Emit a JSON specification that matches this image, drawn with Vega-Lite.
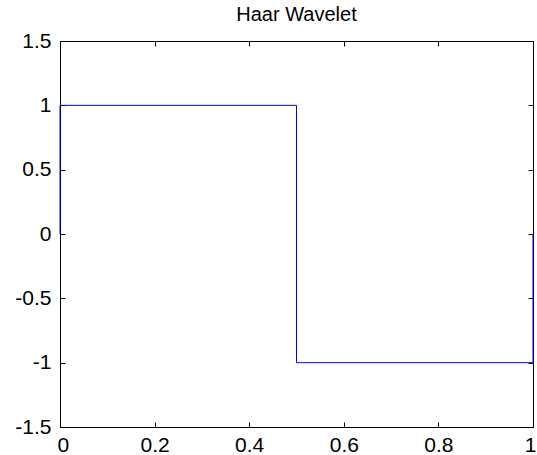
{
  "$schema": "https://vega.github.io/schema/vega-lite/v6.json",
  "width": 473,
  "height": 386,
  "autosize": {"type": "none"},
  "padding": {"left": 60, "top": 41, "right": 4, "bottom": 28},
  "background": "white",
  "title": {"text": "Haar Wavelet", "fontSize": 20, "font": "Liberation Sans", "fontWeight": "normal", "color": "black", "offset": 5},
  "data": {"values": [
    {"x": 0, "y": 0},
    {"x": 0, "y": 1},
    {"x": 0.5, "y": 1},
    {"x": 0.5, "y": -1},
    {"x": 1, "y": -1},
    {"x": 1, "y": 0}
  ]},
  "layer": [
    {
      "mark": {"type": "line", "color": "#0000ff", "strokeWidth": 1, "clip": false},
      "encoding": {
        "x": {"field": "x", "type": "quantitative", "scale": {"domain": [0, 1], "nice": false, "zero": false},
          "axis": {"orient": "bottom", "title": null, "values": [0, 0.2, 0.4, 0.6, 0.8, 1], "format": "~g", "labelExpr": "replace(datum.label, '\u2212', '-')", "grid": false, "tickSize": -5, "labelPadding": 12, "domainColor": "black", "tickColor": "black", "labelColor": "black", "labelFont": "Liberation Sans", "labelFontSize": 21, "labelFlush": true, "labelFlushOffset": 3, "labelOverlap": false}},
        "y": {"field": "y", "type": "quantitative", "scale": {"domain": [-1.5, 1.5], "nice": false, "zero": false},
          "axis": {"orient": "left", "title": null, "values": [-1.5, -1, -0.5, 0, 0.5, 1, 1.5], "format": "~g", "labelExpr": "replace(datum.label, '\u2212', '-')", "grid": false, "tickSize": -5, "labelPadding": 14, "domainColor": "black", "tickColor": "black", "labelColor": "black", "labelFont": "Liberation Sans", "labelFontSize": 21, "labelFlush": false, "labelOverlap": false}},
        "order": {"field": "o"}
      }
    },
    {
      "mark": {"type": "point", "opacity": 0},
      "encoding": {
        "x": {"field": "x", "type": "quantitative",
          "axis": {"orient": "top", "title": null, "values": [0, 0.2, 0.4, 0.6, 0.8, 1], "labels": false, "grid": false, "tickSize": -5, "domainColor": "black", "tickColor": "black"}},
        "y": {"field": "y", "type": "quantitative",
          "axis": {"orient": "right", "title": null, "values": [-1.5, -1, -0.5, 0, 0.5, 1, 1.5], "labels": false, "grid": false, "tickSize": -5, "domainColor": "black", "tickColor": "black"}}
      }
    }
  ],
  "resolve": {"axis": {"x": "independent", "y": "independent"}},
  "config": {"view": {"stroke": null}, "axis": {"domainWidth": 1, "tickWidth": 1}}
}
